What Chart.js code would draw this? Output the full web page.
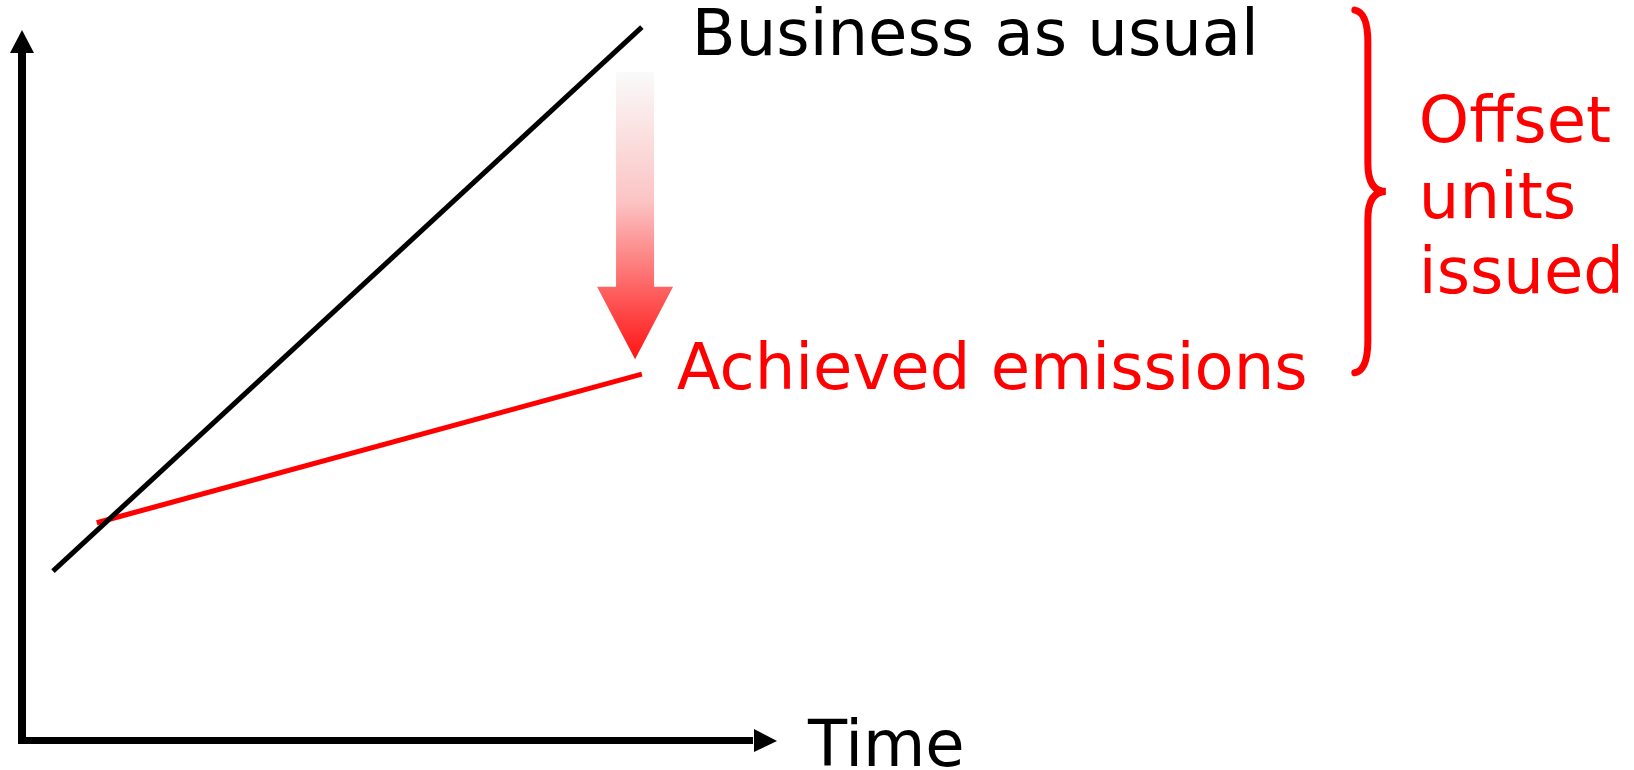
<!DOCTYPE html>
<html>
<head>
<meta charset="utf-8">
<script src="https://cdn.jsdelivr.net/npm/chart.js@4"></script>
<style>
  html, body { margin: 0; padding: 0; background: #fff; }
  #wrap { width: 1634px; height: 770px; }
</style>
</head>
<body>
<div id="wrap"><canvas id="myChart" width="1634" height="770"></canvas></div>
<script>
// values (time / emissions, arbitrary units)
const bauTime = [0.41, 8.21];
const bauValues = [2.39, 10.04];
const achievedTime = [0.99, 8.21];
const achievedValues = [3.07, 5.16];

const seriesLabels = ['Business as usual', 'Achieved emissions'];
const xAxisLabel = 'Time';
const offsetLabel = ['Offset', 'units', 'issued'];

// offset arrow: time, from / head / tip on emissions scale
const offsetArrow = [8.12, 9.41, 6.39, 5.37];
// brace: from / to on emissions scale
const braceRange = [10.28, 5.18];

const FONT = '64px "DejaVu Sans", Verdana, sans-serif';
const RED = '#ff0000';

const diagramPlugin = {
  id: 'diagram',
  beforeDatasetsDraw(chart) {
    const c = chart.ctx;
    const a = chart.chartArea;
    c.save();
    c.fillStyle = '#000';
    // y axis
    c.fillRect(a.left - 4, a.top + 22, 8, a.bottom - a.top - 22);
    c.beginPath();
    c.moveTo(a.left, a.top);
    c.lineTo(a.left + 12, a.top + 23);
    c.lineTo(a.left - 12, a.top + 23);
    c.closePath();
    c.fill();
    // x axis
    c.fillRect(a.left - 4, a.bottom - 4, a.right - a.left - 20, 7);
    c.beginPath();
    c.moveTo(a.right, a.bottom);
    c.lineTo(a.right - 23, a.bottom - 12);
    c.lineTo(a.right - 23, a.bottom + 11);
    c.closePath();
    c.fill();
    c.restore();
  },
  afterDatasetsDraw(chart) {
    const c = chart.ctx;
    const a = chart.chartArea;
    const x = chart.scales.x;
    const y = chart.scales.y;
    c.save();

    // gradient arrow
    const ax = x.getPixelForValue(offsetArrow[0]);
    const aTop = y.getPixelForValue(offsetArrow[1]);
    const aHead = y.getPixelForValue(offsetArrow[2]);
    const aTip = y.getPixelForValue(offsetArrow[3]);
    const grad = c.createLinearGradient(0, aTop, 0, aTip);
    grad.addColorStop(0, 'rgba(250,250,250,1)');
    grad.addColorStop(0.45, 'rgba(252,196,196,1)');
    grad.addColorStop(1, 'rgba(255,20,20,1)');
    c.fillStyle = grad;
    c.beginPath();
    c.moveTo(ax - 19, aTop);
    c.lineTo(ax + 19, aTop);
    c.lineTo(ax + 19, aHead);
    c.lineTo(ax + 38, aHead);
    c.lineTo(ax, aTip);
    c.lineTo(ax - 38, aHead);
    c.lineTo(ax - 19, aHead);
    c.closePath();
    c.fill();

    // labels
    c.font = FONT;
    c.textBaseline = 'alphabetic';
    c.textAlign = 'left';
    const endX = x.getPixelForValue(bauTime[1]);
    c.fillStyle = '#000';
    c.fillText(seriesLabels[0], endX + 50, y.getPixelForValue(bauValues[1]) + 28);
    c.fillStyle = RED;
    c.fillText(seriesLabels[1], endX + 35, y.getPixelForValue(achievedValues[1]) + 15);
    c.fillStyle = '#000';
    c.fillText(xAxisLabel, a.right + 31, a.bottom + 25);

    // brace
    const bTop = y.getPixelForValue(braceRange[0]);
    const bBot = y.getPixelForValue(braceRange[1]);
    const bMid = (bTop + bBot) / 2;
    const bx = endX + 713;
    c.strokeStyle = RED;
    c.lineWidth = 7;
    c.lineCap = 'round';
    c.beginPath();
    c.moveTo(bx, bTop);
    c.bezierCurveTo(bx + 10, bTop + 2, bx + 13, bTop + 15, bx + 13, bTop + 32);
    c.lineTo(bx + 13, bMid - 28);
    c.bezierCurveTo(bx + 13, bMid - 8, bx + 20, bMid, bx + 31, bMid);
    c.bezierCurveTo(bx + 20, bMid, bx + 13, bMid + 8, bx + 13, bMid + 28);
    c.lineTo(bx + 13, bBot - 32);
    c.bezierCurveTo(bx + 13, bBot - 15, bx + 10, bBot - 2, bx, bBot);
    c.stroke();

    c.fillStyle = RED;
    offsetLabel.forEach((t, i) => {
      c.fillText(t, bx + 64, bTop + 132 + i * 75.5);
    });
    c.restore();
  }
};

function drawChart() {
  const ctx = document.getElementById('myChart');
  new Chart(ctx, {
    type: 'scatter',
    data: {
      datasets: [{
        label: seriesLabels[0],
        data: bauTime.map((t, i) => ({x: t, y: bauValues[i]})),
        showLine: true,
        borderColor: '#000',
        borderWidth: 5,
        pointRadius: 0,
        clip: false
      }, {
        label: seriesLabels[1],
        data: achievedTime.map((t, i) => ({x: t, y: achievedValues[i]})),
        showLine: true,
        borderColor: RED,
        borderWidth: 5,
        pointRadius: 0,
        clip: false
      }]
    },
    options: {
      responsive: false,
      animation: false,
      devicePixelRatio: 1,
      layout: {
        padding: {left: 22, right: 857, top: 30, bottom: 29}
      },
      scales: {
        x: { type: 'linear', min: 0, max: 10, display: false },
        y: { type: 'linear', min: 0, max: 10, display: false }
      },
      plugins: {
        legend: { display: false },
        tooltip: { enabled: false }
      }
    },
    plugins: [diagramPlugin]
  });
}

window.addEventListener('DOMContentLoaded', function () {
  drawChart();
});
</script>
</body>
</html>
